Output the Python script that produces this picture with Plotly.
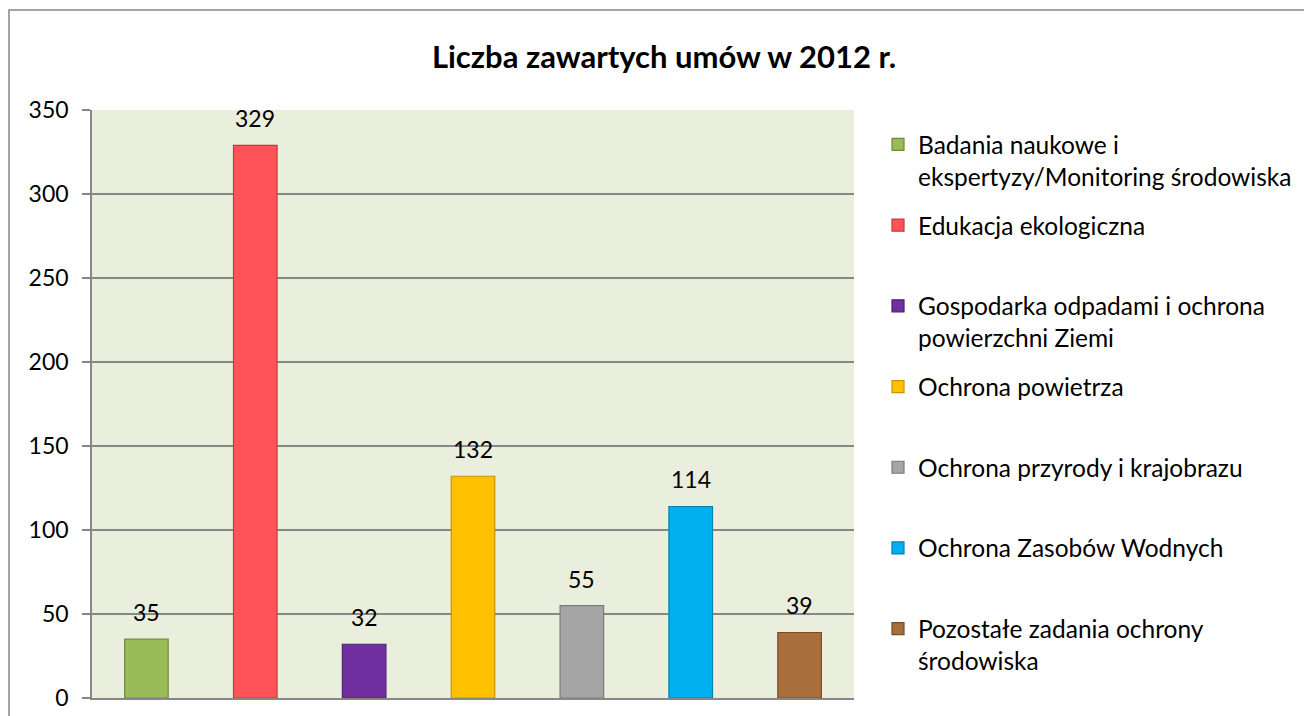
import plotly.graph_objects as go

categories = [
    "Badania naukowe i<br>ekspertyzy/Monitoring środowiska",
    "Edukacja ekologiczna",
    "Gospodarka odpadami i ochrona<br>powierzchni Ziemi",
    "Ochrona powietrza",
    "Ochrona przyrody i krajobrazu",
    "Ochrona Zasobów Wodnych",
    "Pozostałe zadania ochrony<br>środowiska",
]
values = [35, 329, 32, 132, 55, 114, 39]
colors = ["#9BBB59", "#FF5457", "#7030A0", "#FFC000", "#A6A6A6", "#00B0F0", "#A86E3C"]
edge_colors = ["#6F8A3A", "#C03A3D", "#4E1F73", "#C89600", "#7A7A7A", "#0080B0", "#774C27"]
y_ticks = [0, 50, 100, 150, 200, 250, 300, 350]
title_text = "Liczba zawartych umów w 2012 r."

FONT = "Lato, Open Sans, sans-serif"
GRID = "#878787"

fig = go.Figure()
for i, (cat, val) in enumerate(zip(categories, values)):
    # pad single-line legend entries to two lines so spacing stays uniform
    name = cat if "<br>" in cat else cat + "<br> "
    fig.add_trace(go.Bar(
        x=[i], y=[val], name=name, width=0.4,
        marker=dict(color=colors[i], line=dict(color=edge_colors[i], width=1.2)),
        legendgroup=f"g{i}",
        hoverinfo="y",
    ))
    fig.add_annotation(
        x=i, y=val, text=str(val), showarrow=False, yshift=27,
        yanchor="middle", font=dict(family=FONT, size=23, color="#000000"),
    )

# the page body adds an 8px offset, so the figure is sized/positioned to compensate
OFF = 8
W, H = 1312 - OFF, 716 - OFF
L, R, T, B = 92 - OFF, 458, 110 - OFF, 18
pw = W - L - R
ph = H - T - B

fig.add_shape(
    type="rect", xref="paper", yref="paper",
    x0=(1 - L) / pw, x1=(1330 - L) / pw,
    y0=-(40) / ph, y1=(H - B - 2) / ph,
    line=dict(color=GRID, width=1.5), fillcolor="rgba(0,0,0,0)", layer="below",
)

fig.update_layout(
    width=W, height=H,
    margin=dict(l=L, r=R, t=T, b=B, autoexpand=False),
    paper_bgcolor="#FFFFFF",
    plot_bgcolor="#EAEEDC",
    barmode="overlay",
    title=dict(
        text=f"<b>{title_text}</b>", x=(664 - OFF) / W, xanchor="center",
        y=1 - (57 - OFF) / H, yanchor="middle", yref="container",
        font=dict(family=FONT, size=31, color="#000000"),
    ),
    font=dict(family=FONT, size=23, color="#000000"),
    showlegend=True,
    legend=dict(
        x=(870 - L) / pw, xanchor="left", y=(H - B - 114) / ph, yanchor="top",
        valign="top", traceorder="grouped", tracegroupgap=14,
        font=dict(family=FONT, size=24.5, color="#000000"),
        bgcolor="rgba(0,0,0,0)", itemclick=False,
    ),
    xaxis=dict(
        range=[-0.5, 6.5], showticklabels=False, showgrid=False, zeroline=False,
        showline=True, linecolor=GRID, linewidth=1.5, ticks="", fixedrange=True,
        automargin=False,
    ),
    yaxis=dict(
        range=[0, 350], tickvals=y_ticks, showgrid=True, gridcolor=GRID, gridwidth=1.5,
        zeroline=False, showline=True, linecolor=GRID, linewidth=1.5,
        ticks="outside", ticklen=8, tickcolor=GRID, tickwidth=1.5,
        tickfont=dict(family=FONT, size=23, color="#000000"), ticklabelstandoff=9,
        fixedrange=True, automargin=False,
    ),
)

fig.write_html("out.html")
